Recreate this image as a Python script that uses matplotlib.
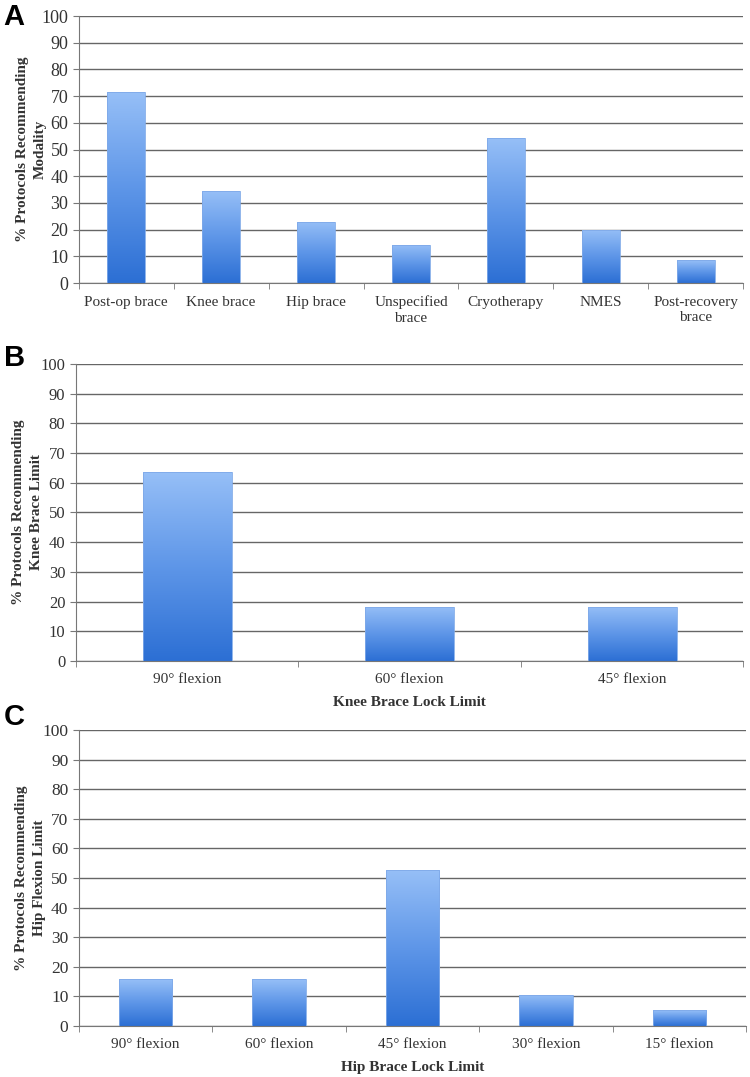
import numpy as np
import matplotlib
matplotlib.use("Agg")
import matplotlib.pyplot as plt
from matplotlib.colors import LinearSegmentedColormap

# Panel A: modalities
modalities = ["Post-op brace", "Knee brace", "Hip brace", "Unspecified\nbrace",
              "Cryotherapy", "NMES", "Post-recovery\nbrace"]
modality_pct = [71.4, 34.3, 22.9, 14.3, 54.3, 20.0, 8.6]

# Panel B: knee brace lock limit
knee_limits = ["90° flexion", "60° flexion", "45° flexion"]
knee_pct = [63.6, 18.2, 18.2]

# Panel C: hip brace lock limit
hip_limits = ["90° flexion", "60° flexion", "45° flexion", "30° flexion", "15° flexion"]
hip_pct = [15.8, 15.8, 52.6, 10.5, 5.3]

plt.rcParams['font.family'] = ['Liberation Serif', 'DejaVu Serif']

bar_cmap = LinearSegmentedColormap.from_list("bar", ["#2c6fd4", "#5e96e8", "#96bff7"])
grad = np.linspace(0, 1, 256).reshape(-1, 1)


def gradient_bars(ax, labels, values, width=0.4):
  x = np.arange(len(labels))
  bars = ax.bar(x, values, width=width, color='none', edgecolor='#7fa9e8', linewidth=0.6, zorder=3)
  for b in bars:
    x0, y0 = b.get_x(), b.get_y()
    im = ax.imshow(grad, cmap=bar_cmap, aspect='auto', origin='lower',
                   extent=[x0, x0 + b.get_width(), y0, y0 + b.get_height()], zorder=2)
    im.set_clip_path(b)
  return x


def style_axes(ax, labels, ylabel, xlabel=None, ytick_size=12.5, ypad=-3):
  n = len(labels)
  ax.set_xlim(-0.5, n - 0.5)
  ax.set_ylim(0, 100)
  ax.set_yticks(np.arange(0, 101, 10))
  ax.set_xticks(np.arange(n))
  ax.set_xticklabels(labels, fontsize=11, color='#333333', linespacing=1.25)
  ax.set_xticks(np.arange(-0.5, n, 1.0), minor=True)
  ax.tick_params(axis='x', which='major', length=0, pad=9)
  ax.tick_params(axis='x', which='minor', length=4, color='#777777', direction='out')
  ax.tick_params(axis='y', length=4, color='#777777', labelsize=ytick_size, labelcolor='#333333')
  ax.yaxis.grid(True, color='#666666', linewidth=1.0, zorder=0)
  ax.set_axisbelow(True)
  for s in ['top', 'right']:
    ax.spines[s].set_visible(False)
  for s in ['left', 'bottom']:
    ax.spines[s].set_color('#777777')
  ax.set_ylabel(ylabel, fontsize=11, fontweight='bold', color='#333333', linespacing=1.5, labelpad=ypad)
  if xlabel:
    ax.set_xlabel(xlabel, fontsize=11, fontweight='bold', color='#333333', labelpad=7)
  ax.set_xlim(-0.5, n - 0.5)


fig = plt.figure(figsize=(7.5, 10.77), dpi=100)
axA = fig.add_axes([0.105, 0.7372, 0.886, 0.2479])
axB = fig.add_axes([0.101, 0.3863, 0.890, 0.2757])
axC = fig.add_axes([0.105, 0.0474, 0.890, 0.2748])

gradient_bars(axA, modalities, modality_pct)
style_axes(axA, modalities, "% Protocols Recommending\nModality", ytick_size=13, ypad=-4)

gradient_bars(axB, knee_limits, knee_pct)
style_axes(axB, knee_limits, "% Protocols Recommending\nKnee Brace Limit", "Knee Brace Lock Limit",
           ytick_size=12, ypad=-2)

gradient_bars(axC, hip_limits, hip_pct)
style_axes(axC, hip_limits, "% Protocols Recommending\nHip Flexion Limit", "Hip Brace Lock Limit",
           ytick_size=12.5, ypad=-3)

for lbl, y in [("A", 0.997), ("B", 0.681), ("C", 0.347)]:
  fig.text(0.005, y, lbl, fontsize=21, fontweight='bold', family=['Liberation Sans', 'DejaVu Sans'],
           va='top', ha='left', color='black')

fig.savefig("out.png", dpi=100, facecolor='white')
